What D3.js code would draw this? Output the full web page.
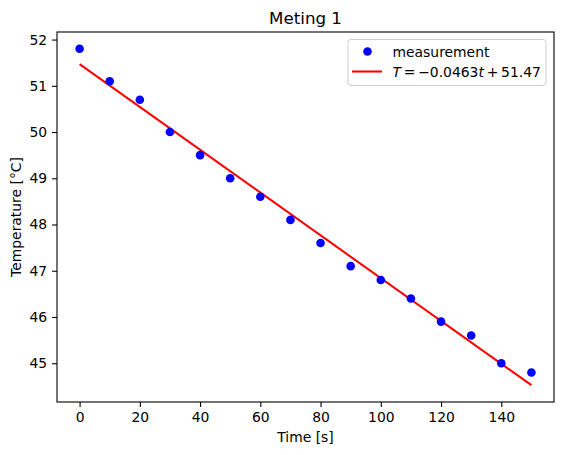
<!DOCTYPE html>
<html>
<head>
<meta charset="utf-8">
<script src="https://cdn.jsdelivr.net/npm/d3@7"></script>
<style>
  body { margin: 0; background: #fff; }
  text { font-family: "DejaVu Sans", sans-serif; fill: #000; }
</style>
</head>
<body>
<div id="chart"></div>
<script>
const width = 562
const height = 455
const margin = { top: 32, bottom: 53, left: 57, right: 8 }

// data
const times = [0, 10, 20, 30, 40, 50, 60, 70, 80, 90, 100, 110, 120, 130, 140, 150]
const temps = [51.8, 51.1, 50.7, 50.0, 49.5, 49.0, 48.6, 48.1, 47.6, 47.1, 46.8, 46.4, 45.9, 45.6, 45.0, 44.8]
const slope = -0.0463
const intercept = 51.47
const xTicks = [0, 20, 40, 60, 80, 100, 120, 140]
const yTicks = [45, 46, 47, 48, 49, 50, 51, 52]

const points = times.map((t, i) => ({ t: t, T: temps[i] }))
const fitLine = [times[0], times[times.length - 1]].map(t => ({ t: t, T: slope * t + intercept }))

const svg = d3.select("#chart").append("svg")
  .attr("width", width)
  .attr("height", height)

const innerW = width - margin.left - margin.right
const innerH = height - margin.top - margin.bottom

// matplotlib-style 5% margins
const allT = temps.concat(fitLine.map(d => d.T))
const tMin = d3.min(allT), tMax = d3.max(allT)
const xPad = (150 - 0) * 0.05
const yPad = (tMax - tMin) * 0.05

const x = d3.scaleLinear().domain([0 - xPad, 150 + xPad]).range([0, innerW])
const y = d3.scaleLinear().domain([tMin - yPad, tMax + yPad]).range([innerH, 0])

const g = svg.append("g").attr("transform", `translate(${margin.left}, ${margin.top})`)

// axes
const xAxis = d3.axisBottom(x).tickValues(xTicks).tickSize(4.9).tickPadding(4.9)
const yAxis = d3.axisLeft(y).tickValues(yTicks).tickSize(4.9).tickPadding(4.9)

const xAxisGroup = g.append("g").attr("transform", `translate(0, ${innerH})`).call(xAxis)
const yAxisGroup = g.append("g").call(yAxis)

;[xAxisGroup, yAxisGroup].forEach(ax => {
  ax.select(".domain").remove()
  ax.selectAll(".tick line").attr("stroke", "#000").attr("stroke-width", 1.1)
  ax.selectAll(".tick text").attr("font-size", "13.9px").attr("font-family", "DejaVu Sans")
})

// frame
g.append("rect")
  .attr("width", innerW).attr("height", innerH)
  .attr("fill", "none").attr("stroke", "#000").attr("stroke-width", 1.1)

// fit line
g.append("path")
  .datum(fitLine)
  .attr("fill", "none")
  .attr("stroke", "#ff0000")
  .attr("stroke-width", 2.08)
  .attr("d", d3.line().x(d => x(d.t)).y(d => y(d.T)))

// points
g.selectAll("circle.pt").data(points)
  .enter()
  .append("circle")
    .attr("class", "pt")
    .attr("cx", d => x(d.t))
    .attr("cy", d => y(d.T))
    .attr("r", 4.3)
    .attr("fill", "#0000ff")

// labels
svg.append("text")
  .attr("x", margin.left + innerW / 2).attr("y", 24)
  .attr("text-anchor", "middle").attr("font-size", "16.7px")
  .text("Meting 1")

svg.append("text")
  .attr("x", margin.left + innerW / 2).attr("y", 442)
  .attr("text-anchor", "middle").attr("font-size", "13.9px")
  .text("Time [s]")

svg.append("text")
  .attr("transform", `translate(21, ${margin.top + innerH / 2}) rotate(-90)`)
  .attr("text-anchor", "middle").attr("font-size", "13.9px")
  .text("Temperature [°C]")

// legend
const lg = svg.append("g").attr("transform", "translate(348, 39.5)")
lg.append("rect")
  .attr("width", 198).attr("height", 46).attr("rx", 3)
  .attr("fill", "#fff").attr("fill-opacity", 0.8)
  .attr("stroke", "#cccccc").attr("stroke-width", 1)

lg.append("circle").attr("cx", 19.5).attr("cy", 12).attr("r", 4.3).attr("fill", "#0000ff")
lg.append("text").attr("x", 44.5).attr("y", 17).attr("font-size", "13.9px").text("measurement")

lg.append("line").attr("x1", 4).attr("x2", 34).attr("y1", 32).attr("y2", 32)
  .attr("stroke", "#ff0000").attr("stroke-width", 2.08)

// mathtext-like spacing (thinner than normal spaces)
const eq = lg.append("text").attr("x", 44.5).attr("y", 37).attr("font-size", "13.9px")
eq.append("tspan").attr("font-style", "italic").text("T")
eq.append("tspan").text("\u2009=\u2009−0.0463")
eq.append("tspan").attr("font-style", "italic").text("t")
eq.append("tspan").text("\u2009+\u200951.47")
</script>
</body>
</html>
